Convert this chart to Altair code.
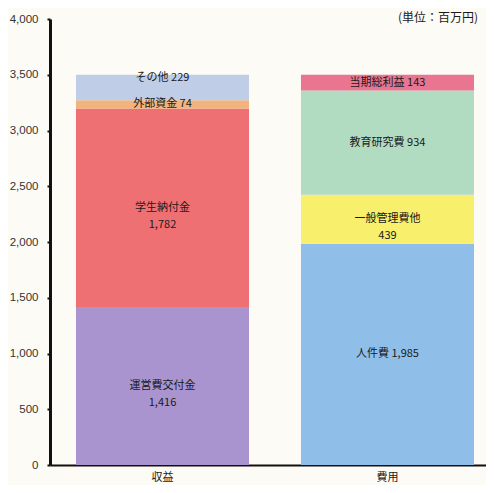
import altair as alt
import pandas as pd

groups = ["収益", "収益", "収益", "収益", "費用", "費用", "費用", "費用"]
items = ["運営費交付金", "学生納付金", "外部資金", "その他",
         "人件費", "一般管理費他", "教育研究費", "当期総利益"]
values = [1416, 1782, 74, 229, 1985, 439, 934, 143]
order = [1, 2, 3, 4, 1, 2, 3, 4]
two_line = ["運営費交付金", "学生納付金", "一般管理費他"]
colors = ["#aa94cf", "#ef7073", "#f2b47c", "#bfcde6",
          "#8fbfe8", "#f8ef6c", "#b2dcc2", "#ea7591"]

labels = [f"{it}\n{v:,}" if it in two_line else f"{it} {v:,}" for it, v in zip(items, values)]

df = pd.DataFrame({"group": groups, "item": items, "value": values,
                   "order": order, "label": labels})

W, H = 436, 446
FONT = "Noto Sans CJK JP"

base = alt.Chart(df)

x_scale = alt.Scale(paddingInner=0.231, paddingOuter=0.0844, align=0.684)

x_enc = alt.X("group:N", sort=["収益", "費用"], title=None, scale=x_scale,
              axis=alt.Axis(labelAngle=0, ticks=False, domainColor="#111",
                            domainWidth=2, labelFont=FONT, labelFontSize=11,
                            labelColor="#1a1a1a", labelPadding=6))

bars = base.mark_bar().encode(
    x=x_enc,
    y=alt.Y("value:Q", stack="zero", title=None,
            scale=alt.Scale(domain=[0, 4000]),
            axis=alt.Axis(values=list(range(0, 4001, 500)), format=",.0f",
                          grid=False, domainColor="#111", domainWidth=3,
                          tickColor="#111", tickSize=3, tickWidth=2,
                          labelFont="Liberation Sans", labelFontSize=11.5,
                          labelColor="#333", labelPadding=9)),
    color=alt.Color("item:N", scale=alt.Scale(domain=items, range=colors), legend=None),
    order=alt.Order("order:Q", sort="ascending"),
)

stacked = base.transform_stack(
    stack="value", groupby=["group"], sort=[alt.SortField("order", order="ascending")],
    as_=["y0", "y1"]
).transform_calculate(mid="(datum.y0 + datum.y1) / 2")

text_main = stacked.transform_filter(alt.datum.item != "その他").mark_text(
    font=FONT, fontSize=11, color="#1a1a1a", lineBreak="\n", lineHeight=17,
    baseline="middle"
).encode(
    x=alt.X("group:N", sort=["収益", "費用"]),
    y=alt.Y("mid:Q"),
    text="label:N",
)

text_top = stacked.transform_filter(alt.datum.item == "その他").mark_text(
    font=FONT, fontSize=11, color="#1a1a1a", baseline="middle", dy=-9
).encode(
    x=alt.X("group:N", sort=["収益", "費用"]),
    y=alt.Y("mid:Q"),
    text="label:N",
)

unit = alt.Chart(pd.DataFrame({"t": ["(単位：百万円)"]})).mark_text(
    font=FONT, fontSize=12, color="#1a1a1a", align="right", baseline="middle"
).encode(x=alt.value(W - 8), y=alt.value(-1), text="t:N")

chart = alt.layer(bars, text_main, text_top, unit).properties(
    width=W, height=H, background="#fdfbf5",
    autosize=alt.AutoSizeParams(type="none"),
    padding={"left": 42, "top": 11, "right": 0, "bottom": 20},
).configure_view(stroke=None)

chart.save("out.html", embed_options={"renderer": "svg", "actions": False})
